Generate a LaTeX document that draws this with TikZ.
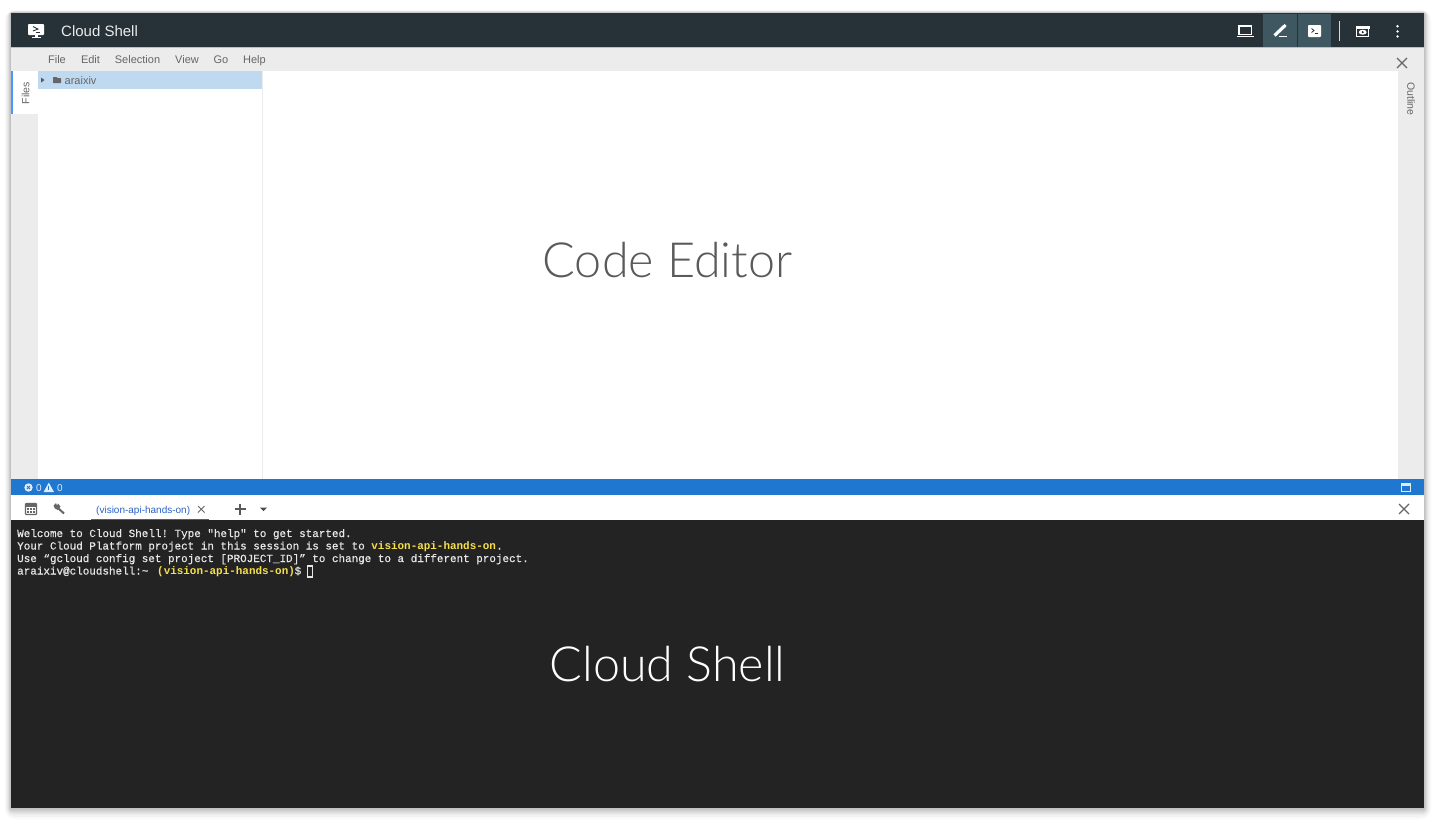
\documentclass[tikz,border=0pt]{standalone}
\usepackage{fontspec}
\setmainfont{Liberation Sans}
\newfontfamily\termfont[FakeBold=0.5]{Liberation Mono}
\newfontfamily\termbold{Liberation Mono Bold}
\newfontfamily\lightfont{Lato Light}
\usetikzlibrary{calc}
\definecolor{hdr}{HTML}{263238}
\definecolor{hdrsel}{HTML}{3F5761}
\definecolor{panel}{HTML}{ECECEC}
\definecolor{rowsel}{HTML}{BFD9F0}
\definecolor{bluebar}{HTML}{1F77D0}
\definecolor{term}{HTML}{232323}
\definecolor{menutxt}{HTML}{666666}
\definecolor{termw}{HTML}{E6E6E6}
\definecolor{termy}{HTML}{F5E04A}
\definecolor{tabblue}{HTML}{2A62C8}
\definecolor{bigtxt}{HTML}{5A5A5A}
\tikzset{
  x=1pt,y=-1pt,
  menuitem/.style={inner sep=0pt,text=menutxt,font=\fontsize{11}{13}\selectfont,anchor=base},
  termline/.style={inner sep=0pt,text=termw,font=\termfont\fontsize{10.93}{12}\selectfont,anchor=base west},
  termyel/.style={inner sep=0pt,text=termy,font=\termbold\fontsize{10.93}{12}\selectfont,anchor=base west},
  bigword/.style={inner sep=0pt,font=\lightfont\fontsize{48.5}{50}\selectfont,anchor=base},
  iconw/.style={draw=white,line width=1.1pt},
  closex/.style={draw=#1,line width=1.3pt},
}
\begin{document}
\frenchspacing
\begin{tikzpicture}
\useasboundingbox (0,0) rectangle (1438,820);
\fill[white] (0,0) rectangle (1438,820);
% soft shadow
\foreach \d/\o in {10/.025,8/.03,6/.04,4.5/.05,3/.06,1.5/.06}{
  \fill[black,opacity=\o,rounded corners=\d] (11-\d*.6,13-\d*.3) rectangle (1424+\d*.7,808+\d*1.1);
}
% panels
\fill[white] (11,13) rectangle (1424,808);
\fill[hdr] (11,13) rectangle (1424,47);
\fill[panel] (11,47) rectangle (1424,71);
\fill[panel] (11,71) rectangle (38,479);
\fill[white] (11,71) rectangle (38,114);
\fill[blue!60!cyan!70!white] (11,71) rectangle (12.5,114);
\fill[panel] (1398,47) rectangle (1424,479);
\fill[rowsel] (38,71) rectangle (262,89);
\draw[draw=black!8,line width=.8pt] (262.5,71) -- (262.5,479);
\fill[bluebar] (11,479) rectangle (1424,495);
\fill[term] (11,520) rectangle (1424,808);
\fill[hdrsel] (1263,13.5) rectangle (1296.5,47);
\fill[hdrsel] (1298,13.5) rectangle (1331,47);
\draw[draw=black!25,line width=.5pt] (11,47.2) -- (1424,47.2);
% header
\node[inner sep=0pt,text=white!92!black,font=\fontsize{15}{17}\selectfont,anchor=base west] (title) at (61,36) {Cloud Shell};
% shell logo
\fill[white,rounded corners=.8] (28,24) rectangle (44,35);
\fill[white] (34.5,35) rectangle (37.5,37.5);
\fill[white] (31.5,37) rectangle (40.5,38);
\draw[hdr,line width=.9pt] (33,26.5) -- (38,29) -- (33,31);
\draw[hdr,line width=.9pt] (36,32.5) -- (40,32.5);
% header right icons
\draw[iconw] (1239,26) rectangle (1251.5,34.5);
\draw[iconw] (1237,36.4) -- (1253.5,36.4);
\draw[white,line width=3.2pt] (1274.5,35.5) -- (1284,26.5);
\fill[white] (1284.5,24) -- (1286.5,26) -- (1285,28) -- (1282.5,26) -- cycle;
\draw[white,line width=1.2pt] (1279,36.8) -- (1286.5,36.8);
\fill[white,rounded corners=.8] (1308,25) rectangle (1321,37);
\draw[hdr,line width=.8pt] (1311.5,28.5) -- (1314,30.5) -- (1311.5,32.5);
\draw[hdr,line width=.8pt] (1314.5,33) -- (1317.5,33);
\draw[draw=white!85!black,line width=.9pt] (1339,21) -- (1339,41);
\draw[iconw] (1356.7,26.7) rectangle (1368.8,36.8);
\fill[white] (1356,26) rectangle (1369.5,28.5);
\fill[white] (1362.7,32.2) ellipse (4 and 2.5);
\fill[hdr] (1362.7,32.2) circle (1.2);
\foreach \yy in {26.2,31.4,36.4}{\fill[white] (1397.5,\yy) circle (1.35);}
% menu
\node[menuitem] (mFile) at (57,63) {File};
\node[menuitem] (mEdit) at (90.5,63) {Edit};
\node[menuitem] (mSel) at (137.5,63) {Selection};
\node[menuitem] (mView) at (187,63) {View};
\node[menuitem] (mGo) at (221,63) {Go};
\node[menuitem] (mHelp) at (254.5,63) {Help};
\draw[closex=black!60] (1397,58) -- (1407,68) (1407,58) -- (1397,68);
% sidebars
\node[inner sep=0pt,rotate=90,text=menutxt,font=\fontsize{10.5}{12}\selectfont] (files) at (25.5,93) {Files};
\node[inner sep=0pt,rotate=-90,text=menutxt,font=\fontsize{10.5}{12}\selectfont] (outline) at (1411,99) {Outline};
% tree row
\fill[black!65] (41,77.5) -- (44.5,80) -- (41,82.5) -- cycle;
\fill[black!60,rounded corners=.5] (53,77) -- (56.5,77) -- (57.5,78) -- (61,78) -- (61,83) -- (53,83) -- cycle;
\node[inner sep=0pt,text=menutxt,font=\fontsize{11}{13}\selectfont,anchor=base west] (araixiv) at (64.5,84) {araixiv};
% status bar
\fill[white!85!bluebar] (28.5,487.5) circle (4.2);
\draw[bluebar,line width=.8pt] (27,486) -- (30,489) (30,486) -- (27,489);
\node[inner sep=0pt,text=white!85!bluebar,font=\fontsize{10}{12}\selectfont,anchor=base west] (err) at (36,491.5) {0};
\fill[white!85!bluebar] (48.8,482.5) -- (54,492) -- (43.6,492) -- cycle;
\fill[bluebar] (48.3,486) rectangle (49.3,489.5);
\node[inner sep=0pt,text=white!85!bluebar,font=\fontsize{10}{12}\selectfont,anchor=base west] (warn) at (57,491.5) {0};
\draw[white!85!bluebar,line width=1.1pt] (1401.5,483.5) rectangle (1410.5,491.5);
\fill[white!85!bluebar] (1401.5,483.5) rectangle (1410.5,486);
% tab row
\draw[draw=black!60,line width=1.2pt,rounded corners=.8] (25.5,503.5) rectangle (36.5,514.5);
\fill[black!60] (25.5,503.5) rectangle (36.5,506.5);
\foreach \xx in {28,31,34}{\foreach \yy in {509,512}{\fill[black!60] (\xx-.8,\yy-.7) rectangle (\xx+.8,\yy+.7);}}
\draw[black!60,line width=2pt] (58.5,508.5) -- (64,513.5);
\fill[black!60] (53.5,505.5) -- (56,503) -- (57,505.5) -- (58,503.5) -- (60.5,506.5) -- (58,510) -- (55,508.5) -- cycle;
\node[inner sep=0pt,text=tabblue,font=\fontsize{10}{12}\selectfont,anchor=base west] (tabname) at (96,513) {(vision-api-hands-on)};
\draw[closex=black!60,line width=.9pt] (198,506) -- (204.5,512.5) (204.5,506) -- (198,512.5);
\fill[tabblue] (91,519) rectangle (209,520);
\draw[black!65,line width=1.3pt] (240,503.5) -- (240,514.5) (234.5,509) -- (245.5,509);
\fill[black!70] (260,507.5) -- (267,507.5) -- (263.5,511) -- cycle;
\draw[closex=black!60] (1399,504) -- (1409,514) (1409,504) -- (1399,514);
% terminal
\node[termline] (t1) at (17,537) {Welcome to Cloud Shell! Type "help" to get started.};
\node[termline] (t2) at (17,549.5) {Your Cloud Platform project in this session is set to};
\node[termyel] (t2b) at (371.2,549.5) {vision-api-hands-on};
\node[termline] (t2c) at (496,549.5) {.};
\node[termline] (t3) at (17,562) {Use “gcloud config set project [PROJECT\_ID]” to change to a different project.};
\node[termline] (t4) at (17,574.5) {araixiv@cloudshell:\textasciitilde};
\node[termyel] (t4b) at (157,574.5) {(vision-api-hands-on)};
\node[termline] (t4c) at (294.5,574.5) {\$};
\draw[draw=termw,line width=1.3pt] (307.5,566) rectangle (312.5,577);
% big words
\node[bigword,text=bigtxt] (ce) at (667.5,277) {Code Editor};
\node[bigword,text=white] (cs) at (667.5,681) {Cloud Shell};
\end{tikzpicture}
\end{document}
